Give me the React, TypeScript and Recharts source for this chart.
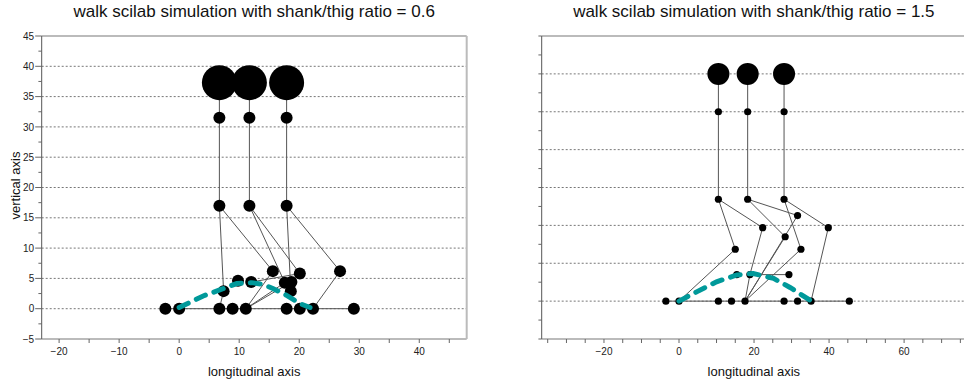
import React from "react";
import {
  CartesianGrid,
  Label,
  ReferenceLine,
  Scatter,
  ScatterChart,
  XAxis,
  YAxis,
} from "recharts";

const FONT = '"Liberation Sans", Arial, Helvetica, sans-serif';

// ---- shank/thig ratio = 0.6 ----
const leftBodyX = [6.7, 11.7, 17.9];
const leftHeadY = 37.3;
const leftHipY = 31.5;
const leftKneeY = 17;
const leftJoints = [
  [7.4, 2.9],
  [15.6, 6.2],
  [17.6, 4.3],
  [18.7, 4.4],
  [18.6, 2.9],
  [20.1, 5.8],
  [26.8, 6.2],
  [9.8, 4.6],
  [12.0, 4.4],
];
const leftGroundX = [-2.3, 0, 6.7, 8.9, 11.1, 17.9, 20.1, 22.3, 29.1];
const leftLegs = [
  [6.7, 17, 7.4, 2.9],
  [6.7, 17, 15.6, 6.2],
  [11.7, 17, 17.6, 4.3],
  [11.7, 17, 20.1, 5.8],
  [17.9, 17, 18.6, 2.9],
  [17.9, 17, 26.8, 6.2],
  [7.4, 2.9, 6.7, 0],
  [11.1, 0, 15.6, 6.2],
  [11.1, 0, 17.6, 4.3],
  [11.1, 0, 18.7, 4.4],
  [12.0, 4.4, 20.1, 5.8],
  [26.8, 6.2, 22.3, 0],
  [-2.3, 0, 29.1, 0],
];
const leftSwing = [
  [0, 0.2],
  [4, 2.1],
  [7.3, 3.3],
  [9.6, 4.15],
  [12.1, 4.3],
  [14, 4.0],
  [15.7, 3.3],
  [17.9, 2.2],
  [20.1, 0.85],
  [21.8, 0.2],
];

// ---- shank/thig ratio = 1.5 ----
const rightBodyX = [10.5, 18.3, 28];
const rightHeadY = 60;
const rightHipY = 50;
const rightKneeY = 26.9;
const rightJoints = [
  [15, 13.7],
  [22.3, 19.4],
  [28.3, 17],
  [31.6, 22.6],
  [32.5, 13.7],
  [39.8, 19.4],
  [15.4, 7],
  [18.9, 7],
  [29.3, 7],
];
const rightGroundX = [-3.5, 0, 10.5, 14, 17.6, 28, 31.6, 35.2, 45.4];
const rightLegs = [
  [10.5, 26.9, 15, 13.7],
  [15, 13.7, 0, 0],
  [10.5, 26.9, 22.3, 19.4],
  [22.3, 19.4, 18.9, 7],
  [18.3, 26.9, 28.3, 17],
  [18.3, 26.9, 31.6, 22.6],
  [28, 26.9, 32.5, 13.7],
  [28, 26.9, 39.8, 19.4],
  [39.8, 19.4, 35.2, 0],
  [17.6, 0, 18.9, 7],
  [17.6, 0, 28.3, 17],
  [17.6, 0, 31.6, 22.6],
  [17.6, 0, 32.5, 13.7],
  [18.9, 7, 29.3, 7],
  [-3.5, 0, 45.4, 0],
];
const rightSwing = [
  [0, 0],
  [4.7, 2.45],
  [10, 5.1],
  [15.4, 6.9],
  [19.8, 7.3],
  [25.2, 6.0],
  [29.6, 3.6],
  [34.9, 0.25],
];

const range = (a: number, b: number, s: number) => {
  const out: number[] = [];
  for (let v = a; v <= b + 1e-9; v += s) out.push(Math.round(v * 100) / 100);
  return out;
};
const pts = (arr: number[][]) => arr.map(([x, y]) => ({ x, y }));
const isMul = (v: number, m: number) => Math.abs(v / m - Math.round(v / m)) < 1e-6;
const fmt = (v: number) => (v < 0 ? `\u2212${-v}` : `${v}`);

type PanelProps = {
  title: string;
  left: number;
  width: number;
  margin: { top: number; right: number; bottom: number; left: number };
  xDomain: [number, number];
  yDomain: [number, number];
  xTicks: number[];
  xLabelEvery: number;
  yTicks: number[];
  yLabelEvery: number | null;
  yGrid: number[];
  bodyX: number[];
  headY: number;
  hipY: number;
  kneeY: number;
  joints: number[][];
  groundX: number[];
  legs: number[][];
  swing: number[][];
  headR: number;
  jointR: number;
  yLabel: boolean;
};

const Panel = (p: PanelProps) => {
  const heads = p.bodyX.map((x) => ({ x, y: p.headY }));
  const joints = [
    ...p.bodyX.map((x) => ({ x, y: p.hipY })),
    ...p.bodyX.map((x) => ({ x, y: p.kneeY })),
    ...pts(p.joints),
    ...p.groundX.map((x) => ({ x, y: 0 })),
  ];
  const sticks = [
    ...p.bodyX.map((x) => [x, p.headY, x, p.hipY]),
    ...p.bodyX.map((x) => [x, p.hipY, x, p.kneeY]),
    ...p.legs,
  ];
  const plotCenter = p.margin.left + 40 + (p.width - p.margin.left - 40 - p.margin.right) / 2;

  const XTick = (props: any) => {
    const { x, y, payload } = props;
    const v = payload.value;
    return (
      <g>
        <line x1={x} y1={y} x2={x} y2={y + 4} stroke="#666" />
        {isMul(v, p.xLabelEvery) && (
          <text x={x} y={y + 16} textAnchor="middle" fontSize={10} fill="#222" fontFamily={FONT}>
            {fmt(v)}
          </text>
        )}
      </g>
    );
  };
  const YTick = (props: any) => {
    const { x, y, payload } = props;
    const v = payload.value;
    const major = p.yLabelEvery !== null && isMul(v, p.yLabelEvery);
    return (
      <g>
        <line x1={x - (major ? 6.5 : 3.3)} y1={y} x2={x} y2={y} stroke="#666" />
        {major && (
          <text x={x - 7.5} y={y} dy={3.6} textAnchor="end" fontSize={10} fill="#222" fontFamily={FONT}>
            {fmt(v)}
          </text>
        )}
      </g>
    );
  };

  return (
    <div style={{ position: "absolute", left: p.left, top: 0, width: p.width, height: 385 }}>
      <div
        style={{
          position: "absolute",
          left: plotCenter - 250,
          top: 2,
          width: 500,
          height: 20,
          lineHeight: "20px",
          fontSize: 17,
          fontFamily: FONT,
          color: "#111",
          textAlign: "center",
          whiteSpace: "nowrap",
        }}
      >
        {p.title}
      </div>
      <ScatterChart width={p.width} height={385} margin={p.margin}>
        <CartesianGrid
          vertical={false}
          horizontalValues={p.yGrid}
          stroke="#777"
          strokeDasharray="2 2"
        />
        <XAxis
          type="number"
          dataKey="x"
          domain={p.xDomain}
          allowDataOverflow
          ticks={p.xTicks}
          interval={0}
          height={46}
          tickSize={0}
          tickMargin={0}
          tickLine={false}
          tick={XTick}
          axisLine={{ stroke: "#bbb", strokeWidth: 2 }}
        >
          <Label
            content={(lp: any) => {
              const vb = lp.viewBox;
              return (
                <text
                  x={vb.x + vb.width / 2}
                  y={vb.y + 37}
                  textAnchor="middle"
                  fontSize={13}
                  fill="#111"
                  fontFamily={FONT}
                >
                  longitudinal axis
                </text>
              );
            }}
          />
        </XAxis>
        <YAxis
          type="number"
          dataKey="y"
          domain={p.yDomain}
          allowDataOverflow
          ticks={p.yTicks}
          interval={0}
          width={40}
          tickSize={0}
          tickMargin={0}
          tickLine={false}
          tick={YTick}
          axisLine={{ stroke: "#555" }}
        >
          {p.yLabel && (
            <Label
              content={(lp: any) => {
                const vb = lp.viewBox;
                const cx = vb.x + vb.width - 26.7;
                const cy = vb.y + vb.height / 2 - 2;
                return (
                  <text
                    x={cx}
                    y={cy}
                    dy="0.35em"
                    transform={`rotate(-90 ${cx} ${cy})`}
                    textAnchor="middle"
                    fontSize={13}
                    fill="#111"
                    fontFamily={FONT}
                  >
                    vertical axis
                  </text>
                );
              }}
            />
          )}
        </YAxis>
        <ReferenceLine y={p.yDomain[1]} stroke="#bbb" strokeWidth={2} />
        <ReferenceLine x={p.xDomain[1]} stroke="#bbb" strokeWidth={2} />
        {sticks.map((s, i) => (
          <ReferenceLine
            key={i}
            segment={[
              { x: s[0], y: s[1] },
              { x: s[2], y: s[3] },
            ]}
            stroke="#555"
            strokeWidth={1}
            ifOverflow="visible"
          />
        ))}
        <Scatter
          data={joints}
          isAnimationActive={false}
          shape={(sp: any) => <circle cx={sp.cx} cy={sp.cy} r={p.jointR} fill="#000" />}
        />
        <Scatter
          data={heads}
          isAnimationActive={false}
          shape={(sp: any) => <circle cx={sp.cx} cy={sp.cy} r={p.headR} fill="#000" />}
        />
        <Scatter
          data={pts(p.swing)}
          isAnimationActive={false}
          line={{
            stroke: "#00999a",
            strokeWidth: 5,
            strokeDasharray: "10 9",
            strokeLinecap: "round",
          }}
          lineType="joint"
          shape={() => <g />}
        />
      </ScatterChart>
    </div>
  );
};

export default function App() {
  return (
    <div
      style={{
        position: "absolute",
        left: 0,
        top: 0,
        width: 964,
        height: 385,
        overflow: "hidden",
        background: "#fff",
        fontFamily: FONT,
      }}
    >
      <Panel
        title="walk scilab simulation with shank/thig ratio = 0.6"
        left={0}
        width={480}
        margin={{ top: 36, right: 13.3, bottom: 0, left: 1.7 }}
        xDomain={[-22.9, 47.9]}
        yDomain={[-5, 45]}
        xTicks={range(-20, 45, 5)}
        xLabelEvery={10}
        yTicks={range(-5, 45, 2.5)}
        yLabelEvery={5}
        yGrid={range(0, 40, 5)}
        bodyX={leftBodyX}
        headY={leftHeadY}
        hipY={leftHipY}
        kneeY={leftKneeY}
        joints={leftJoints}
        groundX={leftGroundX}
        legs={leftLegs}
        swing={leftSwing}
        headR={17.5}
        jointR={6}
        yLabel
      />
      <Panel
        title="walk scilab simulation with shank/thig ratio = 1.5"
        left={480}
        width={486}
        margin={{ top: 36, right: 0, bottom: 0, left: 21.7 }}
        xDomain={[-36.6, 76.5]}
        yDomain={[-10, 70]}
        xTicks={range(-35, 75, 5)}
        xLabelEvery={20}
        yTicks={range(-10, 70, 5)}
        yLabelEvery={null}
        yGrid={range(0, 60, 10)}
        bodyX={rightBodyX}
        headY={rightHeadY}
        hipY={rightHipY}
        kneeY={rightKneeY}
        joints={rightJoints}
        groundX={rightGroundX}
        legs={rightLegs}
        swing={rightSwing}
        headR={11}
        jointR={3.6}
        yLabel={false}
      />
    </div>
  );
}
